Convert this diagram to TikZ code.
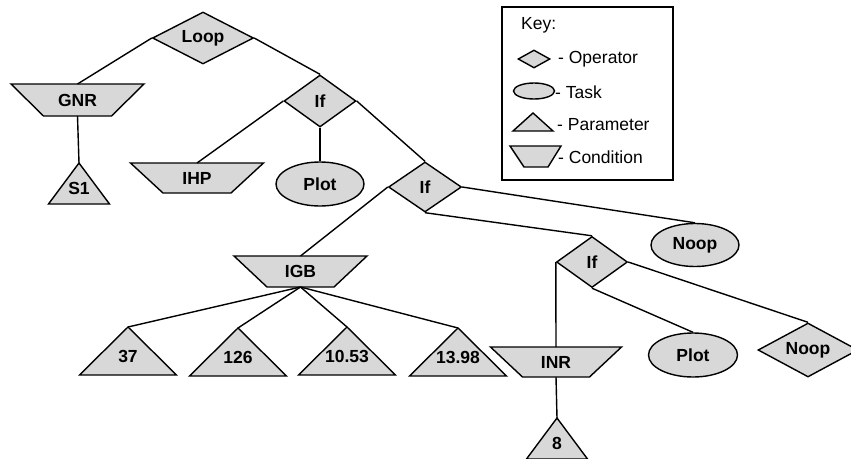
\documentclass[tikz,border=0pt]{standalone}
\usepackage{fontspec}
\setmainfont{Liberation Sans}
\usetikzlibrary{shapes.geometric}
\definecolor{shapefill}{RGB}{216,216,216}
\begin{document}
\begin{tikzpicture}[x=1pt,y=-1pt,
  outline/.style={draw=black, line width=1.4pt, fill=shapefill},
  lbl/.style={font=\fontsize{17.5}{21}\selectfont\bfseries, inner sep=0pt},
  keytext/.style={font=\fontsize{17.5}{21}\selectfont, inner sep=0pt, anchor=west},
  op/.style 2 args={outline, diamond, aspect=2, inner sep=0pt,
    minimum width=#1, minimum height=#2, font=\fontsize{17.5}{21}\selectfont\bfseries},
  task/.style 2 args={outline, ellipse, inner sep=0pt,
    minimum width=#1, minimum height=#2, font=\fontsize{17.5}{21}\selectfont\bfseries},
  conn/.style={draw=black, line width=1.4pt},
  % parameter: triangle hanging from its apex (width, height, text)
  pics/param/.style n args={3}{code={
    \draw[outline] (0,0) coordinate (-apex) -- (#1/2,#2) -- (-#1/2,#2) -- cycle;
    \node[lbl] (-txt) at (0,{0.615*#2}) {#3};
  }},
  % condition: inverted trapezoid centred on the origin (top width, bottom width, height, text)
  pics/cond/.style n args={4}{code={
    \draw[outline] (-#1/2,-#3/2) -- (#1/2,-#3/2) -- (#2/2,#3/2) -- (-#2/2,#3/2) -- cycle;
    \coordinate (-top) at (0,-#3/2);
    \coordinate (-bottom) at (0,#3/2);
    \node[lbl] (-txt) at (0,0) {#4};
  }}
]
\useasboundingbox (0,0) rectangle (851,458);

% ---- tree ----
\node[op={101}{52}] (loop) at (203,38) {Loop};
\pic (gnr) at (77.5,100) {cond={133}{68}{32}{GNR}};
\pic (s1) at (79,163) {param={61}{41}{S1}};

\node[op={72}{52}] (if1) at (320,101) {If};
\pic (ihp) at (197,178) {cond={133}{68}{30}{IHP}};
\node[task={88}{44}] (plot1) at (320,184) {Plot};

\node[op={73}{50}] (if2) at (425,187) {If};
\pic (igb) at (300.5,271.5) {cond={133}{67}{31}{IGB}};
\pic (p37) at (128,327) {param={97}{48}{37}};
\pic (p126) at (238,328) {param={97}{48}{126}};
\pic (p1053) at (347,327) {param={97}{48}{10.53}};
\pic (p1398) at (458,328) {param={97}{48}{13.98}};
\node[task={88}{43}] (noop1) at (695,245) {Noop};

\node[op={71}{51}] (if3) at (592,262) {If};
\pic (inr) at (556,362) {cond={131}{67}{30}{INR}};
\pic (p8) at (557,418) {param={61}{41}{8}};
\node[task={89}{44}] (plot2) at (693,355) {Plot};
\node[op={100}{54}] (noop2) at (808,350) {Noop};

% ---- connectors ----
\draw[conn] (loop.west) -- (gnr-top);
\draw[conn] (gnr-bottom) -- (s1-apex);
\draw[conn] (loop.east) -- (if1.north);
\draw[conn] (if1.west) -- (ihp-top);
\draw[conn] (if1.south) -- (plot1.north);
\draw[conn] (if1.east) -- (if2.north);
\draw[conn] (if2.west) -- (igb-top);
\draw[conn] (igb-bottom) -- (p37-apex);
\draw[conn] (igb-bottom) -- (p126-apex);
\draw[conn] (igb-bottom) -- (p1053-apex);
\draw[conn] (igb-bottom) -- (p1398-apex);
\draw[conn] (if2.east) -- (noop1.north);
\draw[conn] (if2.south) -- (if3.north);
\draw[conn] (if3.west) -- (inr-top);
\draw[conn] (inr-bottom) -- (p8-apex);
\draw[conn] (if3.south) -- (plot2.north);
\draw[conn] (if3.east) -- (noop2.north);

% ---- key ----
\draw[line width=1.4pt] (502,7) rectangle (673,180);
\node[keytext] (keytitle) at (521,25) {Key:};
\node[outline, diamond, inner sep=0pt, minimum width=32, minimum height=18] (keyop) at (534,59) {};
\node[keytext] (keyoptext) at (558,59) {- Operator};
\node[outline, ellipse, inner sep=0pt, minimum width=41, minimum height=16] (keytask) at (534,91) {};
\node[keytext] (keytasktext) at (555,92) {- Task};
\draw[outline] (533,113) -- (553,131) -- (513,131) -- cycle;
\node[keytext] (keyparamtext) at (557,125) {- Parameter};
\draw[outline] (510,146) -- (561,146) -- (548,167) -- (524,167) -- cycle;
\node[keytext] (keycondtext) at (558,157) {- Condition};
\end{tikzpicture}
\end{document}
